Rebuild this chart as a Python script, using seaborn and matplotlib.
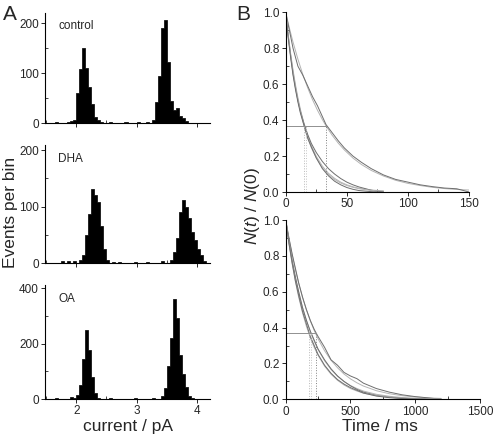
import numpy as np
import pandas as pd
import matplotlib
matplotlib.use("Agg")
import matplotlib.pyplot as plt
import seaborn as sns
from matplotlib.ticker import MultipleLocator, FormatStrFormatter

# ---- panel A: current histograms (bin centres, counts per bin) ----
ctrl_centers = [1.675, 1.875, 1.925,
                1.975, 2.025, 2.075, 2.125, 2.175, 2.225, 2.275, 2.325, 2.375, 2.425,
                2.575, 2.825, 3.025, 3.175,
                3.275, 3.325, 3.375, 3.425, 3.475, 3.525, 3.575, 3.625, 3.675, 3.725, 3.775, 3.825]
ctrl_counts = [2, 2, 3,
               6, 59, 108, 150, 110, 72, 37, 11, 5, 2,
               2, 1, 2, 2,
               5, 42, 94, 190, 205, 122, 43, 25, 30, 14, 10, 3]

dha_centers = [1.775, 1.875, 1.975,
               2.075, 2.125, 2.175, 2.225, 2.275, 2.325, 2.375, 2.425, 2.475, 2.525,
               2.625, 2.725, 2.975, 3.175, 3.425,
               3.575, 3.625, 3.675, 3.725, 3.775, 3.825, 3.875, 3.925, 3.975, 4.025, 4.075, 4.125]
dha_counts = [3, 4, 4,
              6, 15, 50, 86, 131, 120, 108, 66, 25, 5,
              2, 2, 2, 2, 3,
              6, 20, 45, 90, 112, 100, 80, 55, 40, 24, 14, 3]

oa_centers = [1.675, 1.925, 1.975,
              2.025, 2.075, 2.125, 2.175, 2.225, 2.275, 2.325, 2.375,
              2.575, 2.975, 3.275,
              3.425, 3.475, 3.525, 3.575, 3.625, 3.675, 3.725, 3.775, 3.825, 3.875, 3.925]
oa_counts = [4, 8, 4,
             14, 50, 145, 250, 178, 80, 22, 5,
             3, 4, 4,
             12, 40, 120, 222, 360, 292, 159, 90, 45, 11, 4]

hist_labels = ["control", "DHA", "OA"]
hist_ymax = [220, 209, 412]
hist_yticks = [[0, 100, 200], [0, 100, 200], [0, 200, 400]]

# ---- panel B: survival curves N(t)/N(0) ----
t_top = [0, 3, 6, 10, 14, 18, 22, 26, 30, 33, 38, 43, 48, 55, 62, 70, 80, 90, 100, 110, 120, 130, 140, 150]
slow_data = [1.0, 0.90, 0.80, 0.70, 0.65, 0.59, 0.53, 0.48, 0.42, 0.375, 0.33, 0.285, 0.245, 0.20,
             0.165, 0.13, 0.095, 0.07, 0.055, 0.04, 0.03, 0.022, 0.018, 0.0]
slow_fit = [1.0, 0.913, 0.834, 0.739, 0.654, 0.580, 0.513, 0.455, 0.403, 0.368, 0.316, 0.272, 0.234,
            0.189, 0.153, 0.120, 0.089, 0.065, 0.048, 0.036, 0.026, 0.019, 0.014, 0.011]

t_fast = [0, 2, 4, 6, 8, 10, 12, 15, 18, 21, 25, 30, 35, 40, 45, 50, 55, 60, 70, 80]
fast1_data = [1.0, 0.87, 0.76, 0.66, 0.58, 0.51, 0.45, 0.38, 0.32, 0.27, 0.22, 0.17, 0.13, 0.10,
              0.075, 0.055, 0.04, 0.028, 0.01, 0.0]
fast1_fit = [1.0, 0.879, 0.772, 0.679, 0.597, 0.525, 0.461, 0.380, 0.313, 0.258, 0.199, 0.144, 0.104,
             0.076, 0.055, 0.040, 0.029, 0.021, 0.011, 0.006]
fast2_data = [1.0, 0.86, 0.75, 0.65, 0.57, 0.50, 0.44, 0.37, 0.30, 0.25, 0.19, 0.13, 0.09, 0.06,
              0.04, 0.025, 0.015, 0.008, 0.002, 0.0]
fast2_fit = [1.0, 0.875, 0.766, 0.670, 0.587, 0.513, 0.449, 0.368, 0.301, 0.247, 0.189, 0.135, 0.097,
             0.069, 0.050, 0.036, 0.026, 0.018, 0.009, 0.005]
tau_top = [15, 17, 33]

t_bot = [0, 25, 50, 75, 100, 130, 160, 190, 220, 250, 300, 350, 400, 450, 500, 550, 600, 700, 800,
         900, 1000, 1100, 1200]
b_slow_data = [1.0, 0.90, 0.81, 0.73, 0.65, 0.57, 0.50, 0.44, 0.39, 0.35, 0.29, 0.22, 0.19, 0.15,
               0.13, 0.115, 0.09, 0.06, 0.04, 0.025, 0.015, 0.008, 0.0]
b_slow_fit = [1.0, 0.897, 0.805, 0.722, 0.647, 0.568, 0.499, 0.438, 0.384, 0.337, 0.271, 0.218,
              0.176, 0.141, 0.114, 0.092, 0.074, 0.048, 0.031, 0.020, 0.013, 0.008, 0.005]
b_mid_data = [1.0, 0.88, 0.77, 0.68, 0.60, 0.51, 0.44, 0.38, 0.33, 0.28, 0.22, 0.17, 0.13, 0.10,
              0.075, 0.055, 0.04, 0.022, 0.012, 0.006, 0.003, 0.001, 0.0]
b_mid_fit = [1.0, 0.880, 0.774, 0.681, 0.599, 0.513, 0.440, 0.377, 0.324, 0.277, 0.215, 0.166,
             0.129, 0.099, 0.077, 0.060, 0.046, 0.028, 0.017, 0.010, 0.006, 0.004, 0.002]
b_fast_data = [1.0, 0.87, 0.76, 0.66, 0.58, 0.49, 0.42, 0.35, 0.30, 0.25, 0.19, 0.145, 0.11, 0.085,
               0.065, 0.05, 0.035, 0.018, 0.009, 0.004, 0.002, 0.0, 0.0]
b_fast_fit = [1.0, 0.869, 0.755, 0.656, 0.570, 0.482, 0.407, 0.344, 0.290, 0.245, 0.185, 0.140,
              0.106, 0.080, 0.060, 0.046, 0.034, 0.020, 0.011, 0.006, 0.004, 0.002, 0.001]
tau_bot = [178, 195, 232]
level = 0.37

sns.set_style("ticks")
plt.rcParams["font.family"] = ["Liberation Sans", "DejaVu Sans"]
plt.rcParams["mathtext.fontset"] = "custom"
plt.rcParams["mathtext.rm"] = "Liberation Sans"
plt.rcParams["mathtext.it"] = "Liberation Sans:italic"

W, H = 494, 436
fig = plt.figure(figsize=(W / 100, H / 100), dpi=100)


def box(x0, y0, x1, y1):
    return [x0 / W, 1 - y1 / H, (x1 - x0) / W, (y1 - y0) / H]


def style_axis(ax):
    sns.despine(ax=ax)
    for s in ("left", "bottom"):
        ax.spines[s].set_linewidth(0.8)
        ax.spines[s].set_color("black")
    ax.tick_params(which="major", direction="out", length=3, width=0.7, labelsize=8.5, pad=1.5)
    ax.tick_params(which="minor", direction="in", length=2, width=0.6)


# panel A
hist_boxes = [(45, 13, 210, 123), (45, 145, 210, 263), (45, 285, 210, 399)]
hist_data = [(ctrl_centers, ctrl_counts), (dha_centers, dha_counts), (oa_centers, oa_counts)]
for i, (b, (cx, cy)) in enumerate(zip(hist_boxes, hist_data)):
    ax = fig.add_axes(box(*b))
    df = pd.DataFrame({"current": cx, "events": cy})
    sns.histplot(data=df, x="current", weights="events", binwidth=0.05, binrange=(1.5, 4.2),
                 element="step", fill=True, color="black", alpha=1, linewidth=0.5, ax=ax)
    ax.set_xlim(1.48, 4.22)
    ax.set_ylim(0, hist_ymax[i])
    ax.set_yticks(hist_yticks[i])
    ax.yaxis.set_minor_locator(MultipleLocator(hist_yticks[i][1] / 2))
    ax.set_xticks([2, 3, 4])
    ax.xaxis.set_minor_locator(MultipleLocator(0.5))
    ax.set_ylabel("")
    ax.set_xlabel("")
    style_axis(ax)
    if i < 2:
        ax.set_xticklabels([])
    ax.text(0.08, 0.88, hist_labels[i], transform=ax.transAxes, fontsize=8.5, va="center")

fig.text(128 / W, 1 - 426 / H, "current / pA", ha="center", va="center", fontsize=12.5)
fig.text(10 / W, 1 - 212 / H, "Events per bin", ha="center", va="center", rotation=90, fontsize=12.5)
fig.text(3 / W, 1 - 15 / H, "A", ha="left", va="center", fontsize=15)
fig.text(236 / W, 1 - 15 / H, "B", ha="left", va="center", fontsize=15)

# panel B
dark = "#6e6e6e"
light = "#b4b4b4"
curve_sets = [
    ((285.7, 12.3, 469, 192), 150, 50, [(t_top, slow_data, slow_fit), (t_fast, fast1_data, fast1_fit),
                                        (t_fast, fast2_data, fast2_fit)], tau_top),
    ((285.7, 220, 480, 399.3), 1500, 500, [(t_bot, b_slow_data, b_slow_fit), (t_bot, b_mid_data, b_mid_fit),
                                           (t_bot, b_fast_data, b_fast_fit)], tau_bot),
]
vcolors = ["#b8b8b8", "#c4c4c4", "#808080"]
for b, xmax, xstep, curves, taus in curve_sets:
    ax = fig.add_axes(box(*b))
    for tt, d, f in curves:
        sns.lineplot(x=tt, y=f, color=light, lw=0.7, ax=ax, estimator=None)
        sns.lineplot(x=tt, y=d, color=dark, lw=0.7, ax=ax, estimator=None)
    ax.plot([0, max(taus)], [level, level], color="#909090", lw=0.7)
    for tau, c in zip(taus, vcolors):
        ax.plot([tau, tau], [0, level], color=c, lw=0.7, ls=":")
    ax.set_xlim(0, xmax)
    ax.set_ylim(0, 1.0)
    ax.set_xticks(np.arange(0, xmax + 1, xstep))
    ax.xaxis.set_minor_locator(MultipleLocator(xstep / 2))
    ax.set_yticks([0, 0.2, 0.4, 0.6, 0.8, 1.0])
    ax.yaxis.set_minor_locator(MultipleLocator(0.1))
    ax.yaxis.set_major_formatter(FormatStrFormatter("%.1f"))
    ax.set_xlabel("")
    ax.set_ylabel("")
    style_axis(ax)

fig.text(380 / W, 1 - 426 / H, "Time / ms", ha="center", va="center", fontsize=12.5)
fig.text(252 / W, 1 - 206 / H, r"$N$($t$) / $N$(0)", ha="center", va="center", rotation=90, fontsize=12.5)

fig.savefig("out.png", dpi=100)
